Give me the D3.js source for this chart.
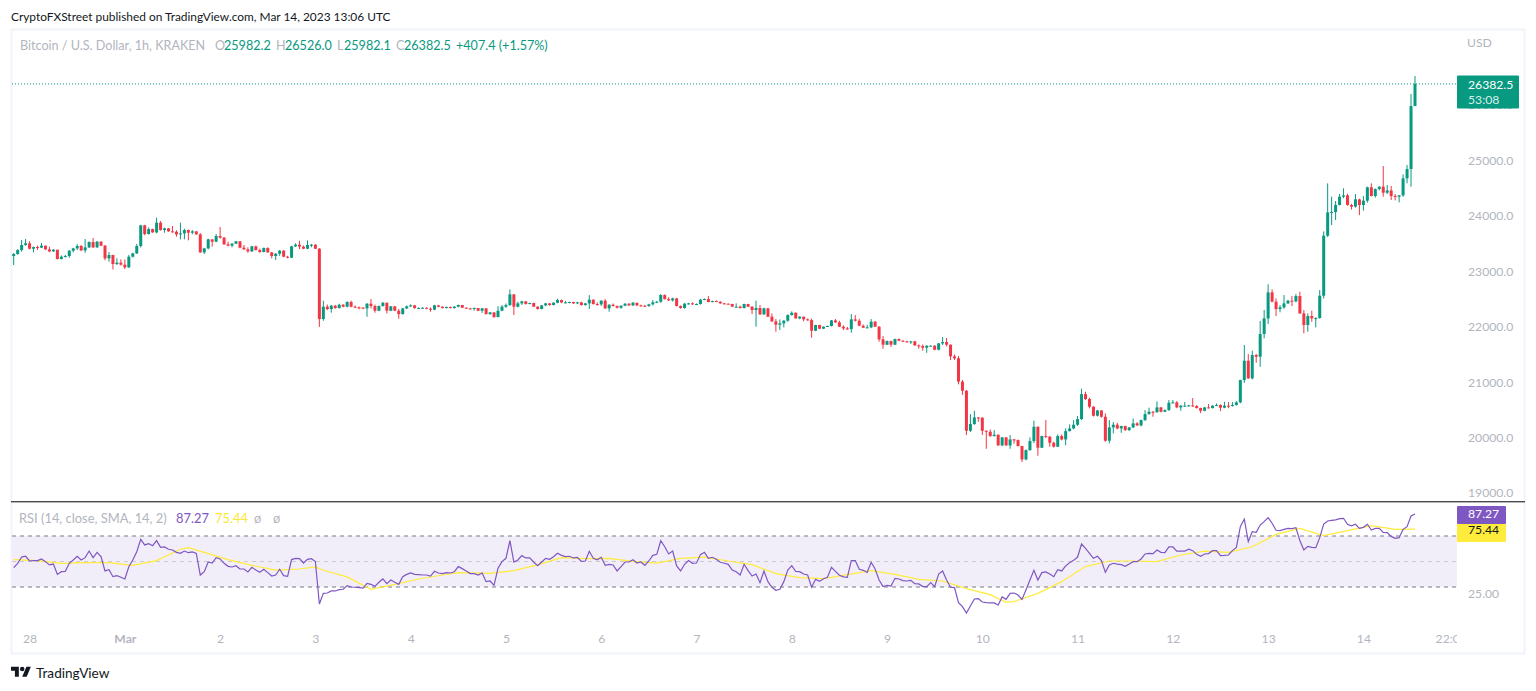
<!DOCTYPE html>
<html>
<head>
<meta charset="utf-8">
<title>BTCUSD 1h</title>
<script src="https://cdn.jsdelivr.net/npm/d3@7"></script>
<style>
  body { margin: 0; background: #fff; }
  text { font-family: Lato, sans-serif; }
  .axis .domain, .axis line { display: none; }
  .axis text { fill: #b2b5be; font-size: 12.2px; font-family: Lato, sans-serif; }
</style>
</head>
<body>
<div id="chart"></div>
<script>
// hourly candles, Feb 27 20:00 -> Mar 14 13:00
const opens = [
23276,23312,23384,23475,23505,23408,23438,23427,23463,23396,
23360,23390,23222,23264,23276,23372,23414,23457,23378,23432,
23529,23432,23535,23463,23234,23294,23132,23156,23120,23072,
23264,23324,23457,23830,23673,23763,23703,23878,23745,23775,
23721,23715,23667,23685,23745,23697,23721,23667,23342,23414,
23577,23535,23637,23607,23487,23463,23499,23541,23427,23396,
23360,23451,23384,23348,23420,23342,23276,23318,23372,23264,
23246,23451,23481,23445,23408,23475,23481,23408,22139,22362,
22319,22380,22337,22398,22362,22446,22362,22350,22344,22331,
22416,22374,22289,22374,22434,22289,22368,22289,22229,22331,
22368,22386,22337,22337,22343,22325,22308,22386,22362,22337,
22356,22337,22362,22392,22343,22331,22320,22338,22289,22332,
22229,22259,22175,22289,22362,22392,22584,22362,22422,22458,
22410,22428,22362,22320,22386,22422,22392,22434,22482,22440,
22440,22446,22422,22440,22392,22422,22488,22410,22404,22470,
22332,22398,22374,22343,22380,22416,22386,22434,22386,22380,
22374,22404,22440,22452,22572,22500,22476,22512,22374,22338,
22416,22422,22404,22410,22488,22500,22446,22464,22452,22422,
22416,22410,22362,22362,22338,22410,22362,22301,22338,22223,
22332,22181,22097,22037,22061,22109,22211,22253,22151,22181,
22133,22121,21928,22031,21965,22001,22013,22115,22079,22001,
21970,21958,22133,22109,22019,21983,21989,22091,22001,21772,
21676,21742,21676,21778,21748,21736,21724,21736,21664,21652,
21622,21658,21658,21585,21700,21724,21676,21465,21430,21010,
20845,20123,20244,20364,20358,20123,20105,20027,20051,19859,
20003,19859,19967,19955,19847,19606,19774,19937,20196,19817,
20027,20015,19907,19835,20027,19967,20117,20165,20232,20334,
20785,20695,20557,20394,20490,20376,19943,20184,20232,20165,
20208,20135,20184,20256,20220,20316,20424,20466,20460,20545,
20466,20497,20629,20635,20545,20575,20575,20581,20569,20533,
20484,20545,20533,20575,20587,20539,20575,20569,20587,20635,
21038,21387,21068,21489,21459,21868,22151,22620,22452,22319,
22349,22422,22470,22458,22554,22241,22031,22193,22151,22157,
22560,23643,24064,24070,24197,24347,24371,24197,24167,24299,
24197,24275,24516,24359,24485,24528,24419,24460,24359,24347,
24371,24678,24846,25982.2
];
const closes = [
23312,23384,23475,23505,23408,23438,23427,23463,23396,23360,
23390,23222,23264,23276,23372,23414,23457,23378,23432,23529,
23432,23535,23463,23234,23294,23132,23156,23120,23072,23264,
23324,23457,23830,23673,23763,23703,23878,23745,23775,23721,
23715,23667,23685,23745,23697,23721,23667,23342,23414,23577,
23535,23637,23607,23487,23463,23499,23541,23427,23396,23360,
23451,23384,23348,23420,23342,23276,23318,23372,23264,23246,
23451,23481,23445,23408,23475,23481,23408,22139,22362,22319,
22380,22337,22398,22362,22446,22362,22350,22344,22331,22416,
22374,22289,22374,22434,22289,22368,22289,22229,22331,22368,
22386,22337,22337,22343,22325,22308,22386,22362,22337,22356,
22337,22362,22392,22343,22331,22320,22338,22289,22332,22229,
22259,22175,22289,22362,22392,22584,22362,22422,22458,22410,
22428,22362,22320,22386,22422,22392,22434,22482,22440,22440,
22446,22422,22440,22392,22422,22488,22410,22404,22470,22332,
22398,22374,22343,22380,22416,22386,22434,22386,22380,22374,
22404,22440,22452,22572,22500,22476,22512,22374,22338,22416,
22422,22404,22410,22488,22500,22446,22464,22452,22422,22416,
22410,22362,22362,22338,22410,22362,22301,22338,22223,22332,
22181,22097,22037,22061,22109,22211,22253,22151,22181,22133,
22121,21928,22031,21965,22001,22013,22115,22079,22001,21970,
21958,22133,22109,22019,21983,21989,22091,22001,21772,21676,
21742,21676,21778,21748,21736,21724,21736,21664,21652,21622,
21658,21658,21585,21700,21724,21676,21465,21430,21010,20845,
20123,20244,20364,20358,20123,20105,20027,20051,19859,20003,
19859,19967,19955,19847,19606,19774,19937,20196,19817,20027,
20015,19907,19835,20027,19967,20117,20165,20232,20334,20785,
20695,20557,20394,20490,20376,19943,20184,20232,20165,20208,
20135,20184,20256,20220,20316,20424,20466,20460,20545,20466,
20497,20629,20635,20545,20575,20575,20581,20569,20533,20484,
20545,20533,20575,20587,20539,20575,20569,20587,20635,21038,
21387,21068,21489,21459,21868,22151,22620,22452,22319,22349,
22422,22470,22458,22554,22241,22031,22193,22151,22157,22560,
23643,24064,24070,24197,24347,24371,24197,24167,24299,24197,
24275,24516,24359,24485,24528,24419,24460,24359,24347,24371,
24678,24846,25982.2,26382.5
];
const highs = [
23330,23400,23565,23583,23546,23445,23463,23510,23465,23445,
23402,23390,23288,23295,23385,23425,23492,23475,23583,23540,
23601,23545,23546,23475,23348,23300,23234,23216,23216,23294,
23335,23492,23840,23840,23793,23770,23968,23908,23788,23782,
23818,23740,23878,23769,23755,23745,23725,23690,23425,23590,
23580,23673,23800,23620,23535,23510,23550,23545,23475,23435,
23460,23465,23410,23430,23435,23350,23330,23385,23385,23280,
23460,23505,23553,23465,23559,23495,23490,23420,22470,22400,
22395,22395,22415,22405,22460,22470,22385,22365,22355,22425,
22500,22400,22385,22445,22435,22375,22375,22320,22340,22385,
22405,22395,22350,22350,22350,22350,22395,22395,22365,22365,
22365,22375,22400,22395,22350,22340,22345,22340,22340,22335,
22265,22260,22370,22390,22420,22675,22590,22452,22470,22465,
22435,22435,22370,22395,22430,22425,22440,22505,22490,22465,
22450,22450,22450,22450,22430,22570,22495,22440,22480,22500,
22405,22420,22385,22385,22425,22425,22445,22420,22400,22395,
22415,22482,22465,22590,22585,22535,22525,22520,22385,22430,
22430,22440,22420,22505,22510,22554,22470,22475,22460,22430,
22420,22415,22422,22380,22415,22415,22370,22470,22392,22345,
22340,22240,22140,22133,22120,22225,22277,22260,22190,22185,
22150,22150,22035,22035,22005,22020,22120,22140,22109,22025,
22000,22229,22211,22145,22040,22035,22139,22105,22010,21832,
21750,21750,21785,21790,21755,21745,21745,21745,21680,21680,
21665,21665,21665,21705,21814,21796,21680,21500,21470,21040,
20860,20424,20484,20370,20370,20130,20147,20135,20060,20010,
20010,20045,19975,19965,19850,19785,20003,20304,20200,20035,
20316,20030,19925,20057,20057,20165,20238,20316,20388,20881,
20827,20720,20565,20500,20495,20436,20316,20280,20268,20215,
20215,20190,20346,20280,20325,20496,20539,20480,20653,20550,
20510,20677,20677,20659,20590,20641,20590,20713,20585,20540,
20550,20605,20585,20617,20600,20647,20641,20641,20659,21045,
21670,21507,21567,21512,22103,22301,22765,22674,22512,22391,
22572,22485,22554,22590,22632,22301,22241,22290,22170,22662,
23721,24588,24347,24269,24395,24498,24400,24220,24395,24310,
24359,24528,24588,24495,24535,24900,24558,24540,24395,24375,
24750,24919,26200,26526
];
const lows = [
23114,23300,23355,23460,23395,23342,23385,23420,23385,23345,
23350,23215,23215,23250,23245,23340,23385,23365,23336,23420,
23420,23425,23455,23200,23174,23035,23115,23105,23041,23060,
23250,23315,23430,23650,23665,23695,23685,23735,23697,23715,
23700,23625,23577,23577,23559,23670,23660,23335,23312,23395,
23445,23525,23590,23480,23450,23432,23490,23415,23390,23336,
23350,23375,23335,23345,23335,23234,23204,23280,23255,23235,
23240,23440,23400,23400,23400,23435,23400,21997,22108,22300,
22253,22325,22330,22350,22350,22350,22340,22313,22320,22181,
22330,22253,22280,22365,22241,22280,22280,22145,22220,22320,
22360,22325,22325,22325,22315,22271,22300,22350,22330,22330,
22330,22330,22350,22335,22325,22310,22290,22280,22250,22220,
22215,22160,22170,22280,22340,22375,22211,22350,22395,22400,
22405,22355,22310,22315,22370,22380,22385,22425,22425,22425,
22425,22410,22410,22380,22380,22320,22400,22380,22375,22320,
22271,22365,22330,22325,22370,22375,22375,22370,22365,22360,
22360,22385,22425,22432,22490,22465,22455,22365,22325,22325,
22400,22395,22390,22400,22480,22440,22440,22445,22415,22405,
22400,22355,22350,22330,22330,22355,22229,22001,22215,22215,
22175,22085,21910,21940,21988,22090,22200,22145,22135,22097,
22110,21802,21920,21955,21960,21995,22005,22070,21995,21940,
21945,21892,22095,22010,21975,21975,21975,21995,21730,21603,
21670,21634,21670,21740,21725,21715,21690,21655,21604,21568,
21531,21645,21575,21575,21670,21645,21398,21400,20960,20770,
20045,20100,20230,20285,20045,19798,20015,20020,19850,19845,
19850,19798,19890,19840,19558,19590,19760,19900,19672,19810,
19990,19835,19820,19830,19950,19865,20110,20150,20210,20315,
20680,20526,20380,20380,20360,19925,19895,20075,20150,20087,
20120,20120,20170,20210,20200,20300,20415,20376,20445,20455,
20460,20480,20620,20530,20484,20560,20560,20555,20525,20442,
20475,20525,20525,20570,20478,20530,20530,20560,20580,20620,
20988,21060,21050,21350,21278,21790,22050,22440,22193,22260,
22325,22410,22373,22440,22230,21880,21910,22090,21990,22145,
22510,23620,23835,23926,24190,24320,24185,24115,24150,24014,
24095,24240,24350,24330,24460,24347,24395,24287,24280,24245,
24345,24588,24528,25982.1
];

const rsiValues = [
45.2,48.6,53.5,54.1,50.4,50.7,50.7,52,49.9,47.3,
48,39.9,42,42.3,48.6,51.2,54.1,51.2,53,58.2,
53,57.2,53.8,42.6,43.6,38.1,38.9,37.6,36.3,45.9,
51.2,57.7,67.4,63,64,62.4,66.4,61.1,61.4,59.6,
59,57.2,56.4,58.2,56.9,57.5,56.4,39.4,42,49.6,
48.8,53,52,48.6,46.2,45.7,46.7,44.1,44.1,41.8,
45.4,43.3,41.5,43.9,41.3,38.6,39.4,43.9,38.9,38.4,
51.5,52.5,52.2,48.8,51.7,52.2,49.9,16.7,25,25.3,
26.9,26.9,27.9,28.2,31.1,30,29.8,29.5,29.2,32.9,
32.1,30.5,33.7,36.3,32.6,35.5,33.7,32.1,38.1,39.9,
41,39.9,39.7,39.4,39.4,38.6,42.3,41,40.5,41.3,
41,42,46,44.4,42.6,40.5,40.5,39.4,41,34.2,
34.7,31.3,44.7,49.9,52.5,66.3,49.6,51.2,54.6,52.8,
52.8,49.4,46.7,49.6,52.5,51.7,53.8,56.4,54.8,53.8,
54.1,52.8,53.3,50.1,50.4,58,52.5,51.4,53.3,47,
47.8,47.3,42.6,46,49.6,49.6,51.4,48.8,49.6,47,
50.4,54.8,55.6,66.3,61.6,55.9,58.2,46.5,42.6,47.8,
50.7,48.6,48.8,55.4,57.2,52.5,53.3,51.7,49.4,48.6,
47.8,43.3,42,39.4,47.8,42.8,38.6,40.2,33.4,42.6,
34.2,29.8,27.4,28.2,34.2,43.3,46.7,42.3,42,40.2,
39.4,29.8,36,34.5,36.5,37.6,45.4,42.3,39.2,37.9,
37.6,50.7,50.7,43.9,43.1,41.5,49.4,44.1,35.5,30.3,
31.3,30.8,36.8,36.3,35,34.7,35.2,32.6,32.4,30.3,
30.3,33.4,30.3,40.2,42.6,35.5,29.8,29.5,17.7,14.6,
9.6,15.1,20.6,20.9,18.2,17.7,17.5,17.5,15.9,22.2,
20.3,25,25.3,23.7,20.3,27.7,35.5,43.1,35.5,41.3,
41.8,40.2,38.1,43.6,42.6,46.5,49.1,50.9,53.5,63.7,
60.3,56.4,52.5,54.1,50.7,41.5,47.3,48.6,48,47.5,
46.2,48,49.9,49.9,52,55.9,56.4,56.2,59,57.2,
57,61.4,61.4,58.2,58.2,58.2,59.6,58.5,55.6,54.1,
55.9,56.2,58.5,58.5,54.6,54.8,55.1,58.5,61.1,77.3,
83.3,65.6,73.4,72.9,78.6,81.3,84.4,80,74.5,74.2,
75.2,76,75.8,76.5,66.4,59,61.9,61.1,60.9,68.7,
79.4,81.8,82.3,82.6,83.6,83.9,79.2,77.9,79.2,76,
76.8,79.2,74.7,76,76,72.9,72.6,69.7,68.2,68.7,
75.2,77.3,85.7,87.27
];

// the yellow average, read every few candles
const rsiMaHours = [0,6,12,18,24,30,36,42,44,48,54,60,66,72,76,78,84,90,96,102,108,112,120,126,132,138,144,150,156,162,168,174,180,186,192,198,204,210,216,222,228,234,240,246,250,252,258,264,270,276,282,288,294,300,306,312,318,324,330,336,342,348,353];
const rsiMaValues = [51.4,50.7,48.6,49.1,49.1,47,50.7,59.6,60.9,57.2,51.5,47,43.3,44.1,45.7,43.1,37.9,28.2,32.1,36.3,39.4,41.2,40.7,42.8,47.3,53,52.2,52.5,50.1,48.8,52.5,53.5,50.4,47.5,40.5,37.3,36.5,39.7,42.8,39.9,36,34.7,28.7,24,18,18.5,25,34.2,46,50.4,50.4,49.9,55.1,58.2,57.2,61.6,71.3,76,70.3,74.2,78.1,75.2,75.44];

const priceTicks = [19000,20000,21000,22000,23000,24000,25000,26000];
const rsiLevels = [70,50,30];
const timeLabels = ["28","Mar","2","3","4","5","6","7","8","9","10","11","12","13","14","22:00"];
const timeLabelHours = [4,28,52,76,100,124,148,172,196,220,244,268,292,316,340,362];

const green = "#089981";
const red = "#f23645";
const purple = "#7e57c2";
const yellow = "#ffeb3b";
const gray = "#b2b5be";
const dark = "#131722";

const width = 1536;
const height = 691;

const svg = d3.select("#chart").append("svg")
    .attr("width", width)
    .attr("height", height)
    .style("display", "block");

const x = d3.scaleLinear().domain([0, 353]).range([13.7, 1415]);
const y = d3.scaleLinear().domain([19000, 25000]).range([493, 160.5]);
const yRsi = d3.scaleLinear().domain([30, 70]).range([587, 536]);

// frame
svg.append("rect")
    .attr("x", 11.5).attr("y", 29.5)
    .attr("width", 1513).attr("height", 624)
    .attr("fill", "none")
    .attr("stroke", "#f0f3fa")
    .attr("stroke-width", 2);

svg.append("text")
    .attr("x", 11).attr("y", 21)
    .attr("fill", dark)
    .attr("font-size", 11.9)
    .text("CryptoFXStreet published on TradingView.com, Mar 14, 2023 13:06 UTC");

// legend, main pane
const legendParts = [
    [20, "Bitcoin / U.S. Dollar, 1h, KRAKEN", gray],
    [215, "O", gray], [224, "25982.2", green],
    [276, "H", gray], [285, "26526.0", green],
    [337, "L", gray], [344, "25982.1", green],
    [396, "C", gray], [404, "26382.5", green],
    [456, "+407.4 (+1.57%)", green]
];
svg.append("g").selectAll("text")
    .data(legendParts)
    .enter().append("text")
    .attr("x", d => d[0])
    .attr("y", 50)
    .attr("fill", d => d[2])
    .attr("font-size", 12.6)
    .text(d => d[1]);

// last price line
svg.append("line")
    .attr("x1", 12).attr("x2", 1457)
    .attr("y1", y(26382.5)).attr("y2", y(26382.5))
    .attr("stroke", green)
    .attr("stroke-dasharray", "1,2");

// candles
const candles = svg.append("g").selectAll("g")
    .data(closes)
    .enter().append("g");

candles.append("line")
    .attr("x1", (d, i) => x(i))
    .attr("x2", (d, i) => x(i))
    .attr("y1", (d, i) => y(highs[i]))
    .attr("y2", (d, i) => y(lows[i]))
    .attr("stroke", (d, i) => d >= opens[i] ? green : red)
    .attr("stroke-width", 1);

candles.append("rect")
    .attr("x", (d, i) => x(i) - 1.5)
    .attr("width", 3)
    .attr("y", (d, i) => y(Math.max(d, opens[i])))
    .attr("height", (d, i) => Math.max(1, Math.abs(y(d) - y(opens[i]))))
    .attr("fill", (d, i) => d >= opens[i] ? green : red);

// price axis
svg.append("g")
    .attr("class", "axis")
    .attr("transform", "translate(1468,0)")
    .call(d3.axisRight(y).tickValues(priceTicks).tickFormat(d3.format(".1f")).tickSize(0).tickPadding(0));

svg.append("text")
    .attr("x", 1467).attr("y", 47)
    .attr("fill", gray)
    .attr("font-size", 12.2)
    .text("USD");

svg.append("rect")
    .attr("x", 1457).attr("y", 75.5)
    .attr("width", 62).attr("height", 33)
    .attr("rx", 1)
    .attr("fill", green);
svg.append("text")
    .attr("x", 1468).attr("y", 88.5)
    .attr("fill", "#fff")
    .attr("font-size", 12.2)
    .text("26382.5");
svg.append("text")
    .attr("x", 1468).attr("y", 103.5)
    .attr("fill", "#d5efe9")
    .attr("font-size", 12.2)
    .text("53:08");

// pane separator, covers the bottom of the price area
svg.append("rect")
    .attr("x", 11).attr("y", 501)
    .attr("width", 1514).attr("height", 1.4)
    .attr("fill", "#4a4a4f");

// rsi pane
svg.append("rect")
    .attr("x", 12).attr("width", 1445)
    .attr("y", yRsi(70))
    .attr("height", yRsi(30) - yRsi(70))
    .attr("fill", "#f2eef9");

svg.append("g").selectAll("line")
    .data(rsiLevels)
    .enter().append("line")
    .attr("x1", 12).attr("x2", 1457)
    .attr("y1", d => yRsi(d)).attr("y2", d => yRsi(d))
    .attr("stroke", d => d === 50 ? "#c9c9cf" : "#787b86")
    .attr("stroke-dasharray", "4,4");

const rsiMaLine = d3.line()
    .x((d, i) => x(rsiMaHours[i]))
    .y(d => yRsi(d));
svg.append("path")
    .attr("d", rsiMaLine(rsiMaValues))
    .attr("fill", "none")
    .attr("stroke", yellow)
    .attr("stroke-width", 1.2);

const rsiLine = d3.line()
    .x((d, i) => x(i))
    .y(d => yRsi(d));
svg.append("path")
    .attr("d", rsiLine(rsiValues))
    .attr("fill", "none")
    .attr("stroke", purple)
    .attr("stroke-width", 1.2);

const rsiLegend = [
    [19, "RSI (14, close, SMA, 14, 2)", gray],
    [176, "87.27", purple],
    [215, "75.44", "#fbe73a"],
    [254, "ø", gray],
    [273, "ø", gray]
];
svg.append("g").selectAll("text")
    .data(rsiLegend)
    .enter().append("text")
    .attr("x", d => d[0])
    .attr("y", 523)
    .attr("fill", d => d[2])
    .attr("font-size", 12.9)
    .text(d => d[1]);

svg.append("text")
    .attr("x", 1468).attr("y", yRsi(25) + 4.5)
    .attr("fill", gray)
    .attr("font-size", 12.2)
    .text("25.00");

svg.append("rect")
    .attr("x", 1457).attr("y", 506)
    .attr("width", 49).attr("height", 18)
    .attr("rx", 1)
    .attr("fill", purple);
svg.append("text")
    .attr("x", 1468).attr("y", yRsi(87.27) + 4.5)
    .attr("fill", "#fff")
    .attr("font-size", 12.2)
    .text("87.27");
svg.append("rect")
    .attr("x", 1457).attr("y", 524)
    .attr("width", 49).attr("height", 18)
    .attr("rx", 1)
    .attr("fill", yellow);
svg.append("text")
    .attr("x", 1468).attr("y", yRsi(75.44) + 4.5)
    .attr("fill", dark)
    .attr("font-size", 12.2)
    .text("75.44");

// time axis, the last label is cut off by the price scale
svg.append("clipPath")
    .attr("id", "timeClip")
    .append("rect")
    .attr("x", 12).attr("y", -10)
    .attr("width", 1445).attr("height", 32);

const timeAxis = svg.append("g")
    .attr("class", "axis")
    .attr("clip-path", "url(#timeClip)")
    .attr("transform", "translate(0,634)")
    .call(d3.axisBottom(x).tickValues(timeLabelHours)
        .tickFormat((d, i) => timeLabels[i]).tickSize(0).tickPadding(0));

timeAxis.selectAll("text")
    .style("font-weight", (d, i) => timeLabels[i] === "Mar" ? 700 : 400);

// footer logo
const logo = svg.append("g")
    .attr("transform", "translate(11,664.5) scale(0.56)")
    .attr("fill", dark);
logo.append("path").attr("d", "M14 22H7V11H0V4h14v18zM28 22h-8l7.5-18h8L28 22z");
logo.append("circle").attr("cx", 20).attr("cy", 8).attr("r", 4);

svg.append("text")
    .attr("x", 36).attr("y", 678)
    .attr("fill", dark)
    .attr("font-size", 13.6)
    .text("TradingView");
</script>
</body>
</html>
